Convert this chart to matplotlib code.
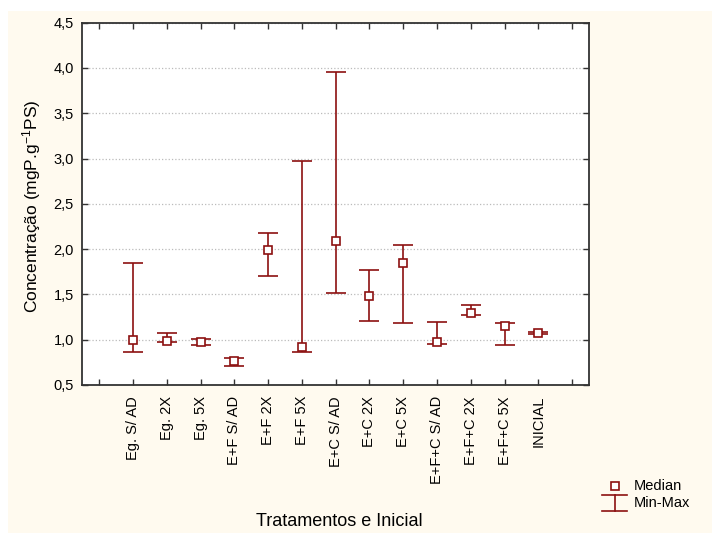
import numpy as np
import matplotlib
matplotlib.use("Agg")
import matplotlib.pyplot as plt
from matplotlib.patches import Rectangle
from matplotlib.lines import Line2D
from matplotlib.ticker import FuncFormatter, MultipleLocator

plt.rcParams['font.family'] = ['Liberation Sans', 'DejaVu Sans']
plt.rcParams['mathtext.fontset'] = 'custom'
plt.rcParams['mathtext.rm'] = 'Liberation Sans'
plt.rcParams['mathtext.it'] = 'Liberation Sans'

# treatments and medians / min / max
categories = ["Eg. S/ AD", "Eg. 2X", "Eg. 5X", "E+F S/ AD", "E+F 2X", "E+F 5X",
              "E+C S/ AD", "E+C 2X", "E+C 5X", "E+F+C S/ AD", "E+F+C 2X",
              "E+F+C 5X", "INICIAL"]
medians = [1.00, 0.985, 0.975, 0.76, 1.99, 0.92, 2.09, 1.48, 1.845, 0.975, 1.30, 1.15, 1.07]
mins = [0.86, 0.97, 0.94, 0.71, 1.70, 0.865, 1.52, 1.21, 1.19, 0.95, 1.27, 0.945, 1.06]
maxs = [1.85, 1.07, 1.01, 0.80, 2.18, 2.97, 3.96, 1.77, 2.05, 1.20, 1.38, 1.18, 1.09]

red = '#8C1010'
cream = '#FFFAEF'
W, H = 712, 533

fig = plt.figure(figsize=(7.12, 5.33), dpi=100, facecolor='white')
fig.add_artist(Rectangle((8 / W, 0), 1, 1 - 11 / H, transform=fig.transFigure,
                         facecolor=cream, edgecolor='none', zorder=-10))

ax = fig.add_axes([82.3 / W, 1 - 385 / H, (589 - 82.3) / W, (385 - 22.7) / H])
ax.set_facecolor('white')

x = np.arange(1, len(categories) + 1)
med = np.array(medians)
lo = med - np.array(mins)
hi = np.array(maxs) - med

ax.errorbar(x, med, yerr=[lo, hi], fmt='none', ecolor=red, elinewidth=1.2,
            capsize=7, capthick=1.2, zorder=3)
ax.plot(x, med, linestyle='none', marker='s', markersize=6, markerfacecolor='white',
        markeredgecolor=red, markeredgewidth=1.2, zorder=4)

ax.set_xlim(-0.5, len(categories) + 1.5)
ax.set_ylim(0.5, 4.5)
ax.set_xticks(np.arange(0, len(categories) + 2))
ax.set_xticklabels([''] + categories + [''], rotation=90, fontsize=10.5)
ax.yaxis.set_major_locator(MultipleLocator(0.5))
ax.yaxis.set_major_formatter(FuncFormatter(lambda v, p: f"{v:.1f}".replace('.', ',')))
ax.tick_params(axis='y', labelsize=10.5, pad=6)
ax.tick_params(axis='x', pad=8)
ax.tick_params(direction='in', top=True, right=True, length=4, width=1, color='#333333')

ax.yaxis.grid(True, linestyle=':', color='#BBBBBB', linewidth=0.9)
ax.set_axisbelow(True)
for s in ax.spines.values():
    s.set_color('#333333')
    s.set_linewidth(1.3)

fig.text(32 / W, 1 - 206 / H, r'Concentração (mgP.g$^{-1}$PS)', rotation=90,
         ha='center', va='center', fontsize=12.5)
fig.text(339 / W, 1 - 522 / H, 'Tratamentos e Inicial', ha='center', va='center',
         fontsize=13)

# legend drawn by hand like the original
def px(xp, yp):
    return xp / W, 1 - yp / H

mx, my = px(615, 486)
fig.add_artist(Line2D([mx], [my], transform=fig.transFigure, marker='s', markersize=6,
                      markerfacecolor='white', markeredgecolor=red, markeredgewidth=1.2))
(x0, y0), (x1, y1) = px(602, 495), px(627, 511)
xc = (x0 + x1) / 2
fig.add_artist(Line2D([x0, x1], [y0, y0], transform=fig.transFigure, color=red, lw=1.2))
fig.add_artist(Line2D([x0, x1], [y1, y1], transform=fig.transFigure, color=red, lw=1.2))
fig.add_artist(Line2D([xc, xc], [y0, y1], transform=fig.transFigure, color=red, lw=1.2))
fig.text(634 / W, 1 - 486 / H, 'Median', ha='left', va='center', fontsize=10.5)
fig.text(634 / W, 1 - 503 / H, 'Min-Max', ha='left', va='center', fontsize=10.5)

fig.savefig('out.png', dpi=100, facecolor=fig.get_facecolor())
